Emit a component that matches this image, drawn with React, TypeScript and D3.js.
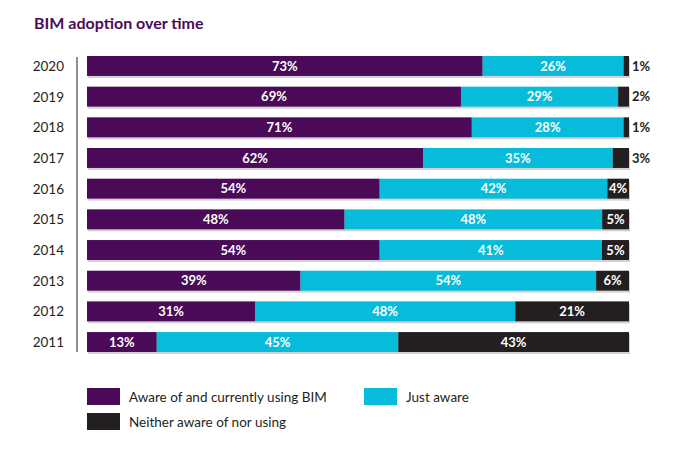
import React from 'react';
import * as d3 from 'd3';

const years = ['2020', '2019', '2018', '2017', '2016', '2015', '2014', '2013', '2012', '2011'];
const usingBim = [73, 69, 71, 62, 54, 48, 54, 39, 31, 13];
const justAware = [26, 29, 28, 35, 42, 48, 41, 54, 48, 45];
const neither = [1, 2, 1, 3, 4, 5, 5, 6, 21, 43];

const seriesNames = ['Aware of and currently using BIM', 'Just aware', 'Neither aware of nor using'];
const colors = ['#4a0a57', '#07bcdb', '#231f20'];

const width = 681;
const height = 457;

export default function App() {
  const x = d3.scaleLinear().domain([0, 100]).range([87, 629]);
  const y = d3.scaleBand().domain(years).range([56, 352]).paddingInner(0.35).paddingOuter(0);

  const rows = years.map((yr, i) => {
    const vals = [usingBim[i], justAware[i], neither[i]];
    const total = d3.sum(vals);
    let acc = 0;
    const segs = vals.map((v, k) => {
      const x0 = x((acc / total) * 100);
      acc += v;
      const x1 = x((acc / total) * 100);
      return { v, k, x0, x1 };
    });
    return { yr, segs };
  });

  const font = 'Lato, "Open Sans", sans-serif';

  return (
    <svg width={width} height={height} style={{ position: 'absolute', left: 0, top: 0, background: '#fff' }} fontFamily={font}>
      <text x={34} y={29} fontSize={16} fontWeight={700} fill="#4a0a57">BIM adoption over time</text>

      <line x1={77} x2={77} y1={57} y2={352} stroke="#231f20" strokeWidth={1} />

      {rows.map(r => {
        const yy = y(r.yr)!;
        const bh = y.bandwidth();
        return (
          <g key={r.yr}>
            <text x={64} y={yy + bh / 2} dy="0.36em" textAnchor="end" fontSize={13.5} fill="#231f20">{r.yr}</text>
            <rect x={x(0) + 1} y={yy + 2} width={x(100) - x(0)} height={bh} fill="#d2d2d2" />
            {r.segs.map(s => (
              <rect key={s.k} x={s.x0} y={yy} width={s.x1 - s.x0} height={bh} fill={colors[s.k]} />
            ))}
            {r.segs.map(s => {
              const inside = s.x1 - s.x0 > 20;
              return (
                <text
                  key={'t' + s.k}
                  x={inside ? (s.x0 + s.x1) / 2 : s.x1 + 3}
                  y={yy + bh / 2}
                  dy="0.36em"
                  textAnchor={inside ? 'middle' : 'start'}
                  fontSize={13}
                  fontWeight={700}
                  fill={inside ? '#fff' : '#231f20'}
                >
                  {s.v}%
                </text>
              );
            })}
          </g>
        );
      })}

      {seriesNames.map((name, k) => {
        const lx = k === 1 ? 364 : 87;
        const ly = k === 2 ? 413 : 388;
        return (
          <g key={name}>
            <rect x={lx} y={ly} width={33} height={17} fill={colors[k]} />
            <text x={lx + 42} y={ly + 9} dy="0.36em" fontSize={13.5} fill="#231f20">{name}</text>
          </g>
        );
      })}
    </svg>
  );
}
